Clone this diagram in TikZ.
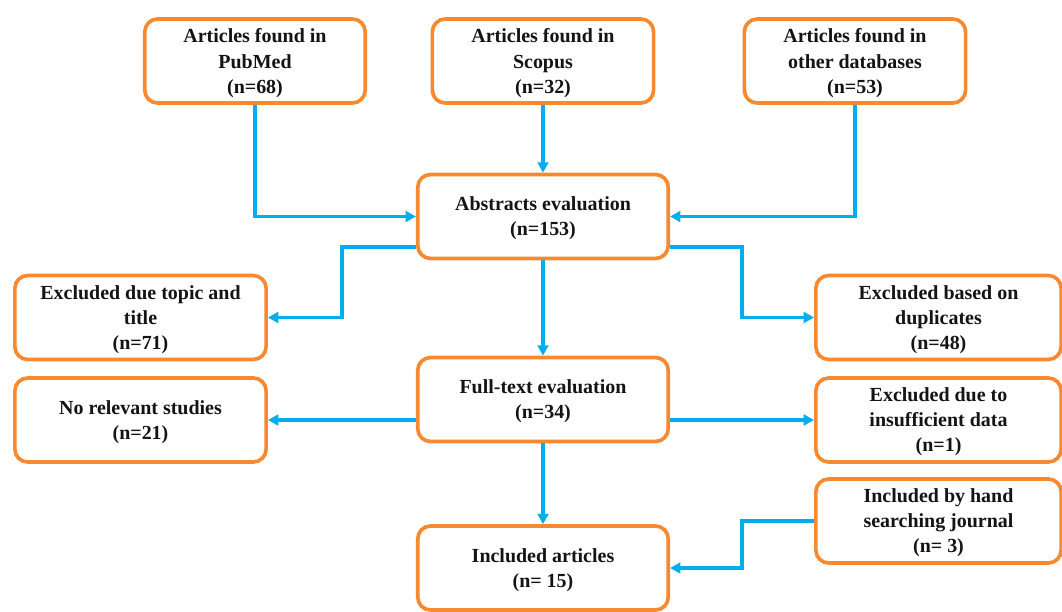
\documentclass[tikz,border=0pt]{standalone}
\usepackage{fontspec}
\setmainfont{Liberation Serif}
\usetikzlibrary{arrows.meta,calc}
\definecolor{boxStroke}{RGB}{247,137,49}
\definecolor{boxText}{RGB}{20,20,20}
\definecolor{flowLine}{RGB}{0,174,239}

\begin{document}
\begin{tikzpicture}[
  x=0.025cm,
  y=-0.025cm,
  box/.style={draw=boxStroke, line width=2.6pt, rounded corners=0.32cm, fill=white,
    minimum height=2.1cm, inner sep=0pt, align=center, text=boxText, text depth=0pt,
    font=\bfseries\fontsize{14.2}{17.8}\selectfont},
  flow/.style={draw=flowLine, line width=2.4pt, -{Triangle[length=0.26cm,width=0.27cm]}}
]
  \useasboundingbox (0,0) rectangle (1062,611);

  % sources
  \node[box, minimum width=5.51cm] (pubmed) at (255,61) {Articles found in\\PubMed\\(n=68)};
  \node[box, minimum width=5.53cm] (scopus) at (543,61) {Articles found in\\Scopus\\(n=32)};
  \node[box, minimum width=5.53cm] (other) at (855,61) {Articles found in\\other databases\\(n=53)};

  % screening column
  \node[box, minimum width=6.26cm] (abstracts) at (543,216.5) {Abstracts evaluation\\(n=153)};
  \node[box, minimum width=6.26cm] (fulltext) at (543,399.5) {Full-text evaluation\\(n=34)};
  \node[box, minimum width=6.26cm] (included) at (543,568) {Included articles\\(n= 15)};

  % side boxes
  \node[box, minimum width=6.28cm] (topic) at (140.5,317.5) {Excluded due topic and\\title\\(n=71)};
  \node[box, minimum width=6.28cm] (norel) at (140.5,420) {No relevant studies\\(n=21)};
  \node[box, minimum width=6.13cm] (dup) at (938.5,317.5) {Excluded based on\\duplicates\\(n=48)};
  \node[box, minimum width=6.13cm] (insuff) at (938.5,420) {Excluded due to\\insufficient data\\(n=1)};
  \node[box, minimum width=6.13cm] (hand) at (938.5,521) {Included by hand\\searching journal\\(n= 3)};

  % connectors
  \draw[flow] (pubmed) |- (abstracts);
  \draw[flow] (scopus) -- (abstracts);
  \draw[flow] (other) |- (abstracts);
  \draw[flow] ($(abstracts.west)+(0,30.5)$) -| ($(topic.east)+(74,0)$) -- (topic);
  \draw[flow] ($(abstracts.east)+(0,30.5)$) -| ($(dup.west)+(-72,0)$) -- (dup);
  \draw[flow] (abstracts) -- (fulltext);
  \draw[flow] (fulltext.west |- norel) -- (norel);
  \draw[flow] (fulltext.east |- insuff) -- (insuff);
  \draw[flow] (fulltext) -- (included);
  \draw[flow] (hand) -| ($(included.east)+(72,0)$) -- (included);
\end{tikzpicture}
\end{document}
